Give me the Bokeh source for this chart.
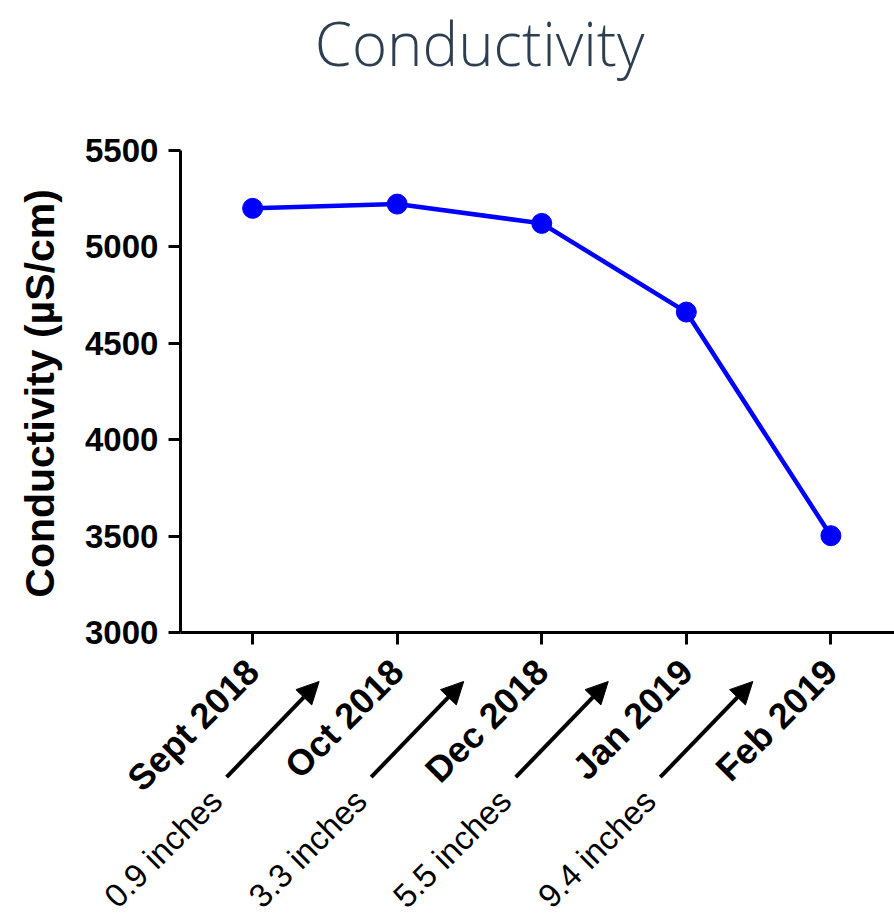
import math
from bokeh.plotting import figure
from bokeh.models import Range1d, FixedTicker, Arrow, NormalHead, Label
from bokeh.embed import file_html
from bokeh.resources import INLINE

# ---- data ----
months = ["Sept 2018", "Oct 2018", "Dec 2018", "Jan 2019", "Feb 2019"]
conductivity = [5200, 5222, 5122, 4662, 3502]
rain_labels = ["0.9 inches", "3.3 inches", "5.5 inches", "9.4 inches"]
y_ticks = [3000, 3500, 4000, 4500, 5000, 5500]
Y_MIN, Y_MAX = 3000, 5500
X_MIN, X_MAX = -0.5, 4.44

idx = list(range(len(months)))

# the frame spans the whole canvas; axes are pinned and bounded to the data area
p = figure(width=894, height=916, output_backend="svg", toolbar_location=None,
           x_range=Range1d(-1.744, X_MAX), y_range=Range1d(1527, 6278),
           min_border_left=0, min_border_right=0, min_border_top=0,
           min_border_bottom=0)

p.outline_line_color = None
p.xgrid.visible = False
p.ygrid.visible = False
p.background_fill_color = "white"
p.border_fill_color = "white"

BOLD = "Liberation Sans"

# y axis
ya = p.yaxis[0]
ya.fixed_location = X_MIN
ya.bounds = (Y_MIN, Y_MAX)
ya.ticker = FixedTicker(ticks=y_ticks)
ya.axis_line_width = 3
ya.major_tick_line_width = 3
ya.major_tick_out = 12
ya.major_tick_in = 0
ya.minor_tick_line_color = None
ya.major_label_text_font = BOLD
ya.major_label_text_font_style = "bold"
ya.major_label_text_font_size = "33px"
ya.major_label_text_color = "black"
ya.major_label_standoff = 10

# x axis
xa = p.xaxis[0]
xa.fixed_location = Y_MIN
xa.bounds = (X_MIN, X_MAX)
xa.ticker = FixedTicker(ticks=idx)
xa.major_label_overrides = {i: m for i, m in zip(idx, months)}
xa.major_label_orientation = math.pi / 4
xa.axis_line_width = 3
xa.major_tick_line_width = 3
xa.major_tick_out = 12
xa.major_tick_in = 0
xa.minor_tick_line_color = None
xa.major_label_text_font = BOLD
xa.major_label_text_font_style = "bold"
xa.major_label_text_font_size = "36px"
xa.major_label_text_color = "black"
xa.major_label_standoff = 21

# series
p.line(idx, conductivity, line_color="#0000ff", line_width=4.5)
p.scatter(idx, conductivity, size=20, fill_color="#0000ff", line_color="#0000ff")

# y axis title
p.add_layout(Label(x=-1.4675, y=4240, text="Conductivity (µS/cm)", angle=math.pi / 2,
                   text_align="center", text_baseline="middle",
                   text_font=BOLD, text_font_style="bold",
                   text_font_size="41px", text_color="black"))

# chart title
p.add_layout(Label(x=1.57, y=6270, text="Conductivity", text_align="center",
                   text_baseline="top",
                   text_font="Open Sans Light, Lato Light, Open Sans",
                   text_font_size="60px", text_color="#2c3e50"))

# rainfall arrows + labels between sampling dates
ARROW_CX = 0.14
ARROW_HALF_DX = 0.32
ARROW_Y0, ARROW_Y1 = 2250, 2746
TEXT_DX = -0.62
TEXT_Y = 1880
for i, lab in enumerate(rain_labels):
    p.add_layout(Arrow(x_start=i + ARROW_CX - ARROW_HALF_DX, y_start=ARROW_Y0,
                       x_end=i + ARROW_CX + ARROW_HALF_DX, y_end=ARROW_Y1,
                       line_width=4, line_color="black",
                       end=NormalHead(size=22, fill_color="black", line_color="black")))
    p.add_layout(Label(x=i + TEXT_DX, y=TEXT_Y, text=lab, angle=math.pi / 4,
                       text_align="center", text_baseline="middle",
                       text_font=BOLD, text_font_size="33px",
                       text_color="black"))

open("out.html", "w").write(file_html(p, INLINE))
